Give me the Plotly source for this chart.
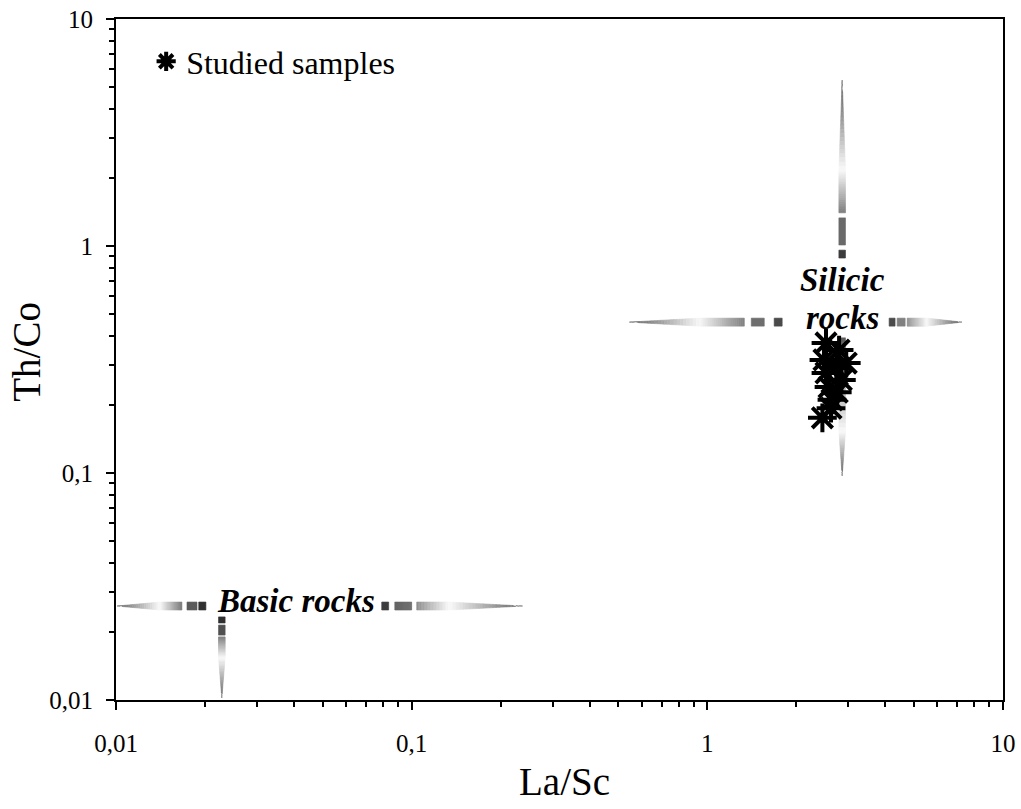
import numpy as np
import plotly.graph_objects as go

# ---------------- Data ----------------
# Studied samples (La/Sc vs Th/Co)
la_sc = [2.52, 2.79, 2.48, 2.95, 2.73, 2.52, 2.84, 2.58, 2.75, 2.64, 2.62, 2.45]
th_co = [0.374, 0.348, 0.315, 0.305, 0.290, 0.276, 0.257, 0.239, 0.227, 0.210, 0.193, 0.175]

x_tickvals = [0.01, 0.1, 1, 10]
x_ticktext = ["0,01", "0,1", "1", "10"]
y_tickvals = [0.01, 0.1, 1, 10]
y_ticktext = ["0,01", "0,1", "1", "10"]

# Field arrows (segments along the arrow direction, in data units)
# Silicic rocks: horizontal arrow at Th/Co level, vertical arrow at La/Sc level
sil_h_level = 0.462
sil_h_segments = [(0.545, 0.940), (0.940, 1.334), (1.408, 1.558), (1.683, 1.791),
                  (4.12, 4.315), (4.385, 4.667), (4.742, 5.534), (5.534, 7.26)]
sil_v_level = 2.858
sil_v_segments = [(5.38, 2.16), (2.16, 1.40), (1.33, 1.01), (0.959, 0.885),
                  (0.394, 0.152), (0.152, 0.0971)]
# Basic rocks
bas_h_level = 0.02594
bas_h_segments = [(0.01008, 0.01409), (0.01409, 0.01671), (0.01738, 0.01879), (0.01905, 0.02014),
                  (0.0792, 0.0836), (0.0877, 0.1000), (0.1040, 0.1343), (0.1343, 0.2371)]
bas_v_level = 0.02280
bas_v_segments = [(0.02323, 0.02183), (0.02138, 0.01932), (0.01897, 0.01531), (0.01531, 0.01021)]

# Field labels (position in data units)
sil_label1_pos = (2.858, 0.708)
sil_label2_pos = (2.858, 0.48)
bas_label_pos = (0.0407, 0.0273)

# ---------------- Styles ----------------
# (width at start, width at end, colour at start, colour at end)
sil_h_styles = [(0, 1, "#5a5a5a", "#f8f8f8"), (1, 1, "#f8f8f8", "#808080"),
                (1, 1, "#6e6e6e", "#6e6e6e"), (1, 1, "#4a4a4a", "#4a4a4a"),
                (1, 1, "#4a4a4a", "#4a4a4a"), (1, 1, "#808080", "#808080"),
                (1, 1, "#909090", "#f8f8f8"), (1, 0, "#f8f8f8", "#5a5a5a")]
sil_v_styles = [(0, 1, "#555555", "#fafafa"), (1, 1, "#fafafa", "#808080"),
                (1, 1, "#6a6a6a", "#6a6a6a"), (1, 1, "#3c3c3c", "#3c3c3c"),
                (1, 1, "#5a5a5a", "#fafafa"), (1, 0, "#fafafa", "#5a5a5a")]
bas_h_styles = [(0, 1, "#606060", "#fafafa"), (1, 1, "#fafafa", "#7c7c7c"),
                (1, 1, "#5a5a5a", "#5a5a5a"), (1, 1, "#303030", "#303030"),
                (1, 1, "#3c3c3c", "#3c3c3c"), (1, 1, "#606060", "#6e6e6e"),
                (1, 1, "#8e8e8e", "#fafafa"), (1, 0, "#fafafa", "#606060")]
bas_v_styles = [(1, 1, "#303030", "#303030"), (1, 1, "#505050", "#505050"),
                (1, 1, "#7a7a7a", "#fafafa"), (1, 0, "#fafafa", "#606060")]

W, H = 1021, 809
ML, MR, MT, MB = 116, 18, 19, 109
XR = [-2, 1]
YR = [-2, 1]
XPX = (W - ML - MR) / (XR[1] - XR[0])   # pixels per decade
YPX = (H - MT - MB) / (YR[1] - YR[0])
HALF_H = 4.0   # px, half thickness of horizontal arrows
HALF_V = 3.3   # px, half thickness of vertical arrows
SERIF = "Liberation Serif, Times New Roman, serif"


def hex2rgb(c):
    c = c.lstrip("#")
    return np.array([int(c[i:i + 2], 16) for i in (0, 2, 4)], dtype=float)


def mix(c0, c1, t):
    v = hex2rgb(c0) * (1 - t) + hex2rgb(c1) * t
    return "rgb(%d,%d,%d)" % tuple(np.round(v).astype(int))


def arrow_traces(orient, level, segments, styles):
    traces = []
    lev = np.log10(level)
    for (a, b), (w0, w1, c0, c1) in zip(segments, styles):
        la, lb = np.log10(a), np.log10(b)
        n = 1 if (c0 == c1 and w0 == w1) else 22
        ts = np.linspace(0, 1, n + 1)
        for i in range(n):
            t0, t1 = ts[i], ts[i + 1]
            p0, p1 = la + (lb - la) * t0, la + (lb - la) * t1
            hw0, hw1 = w0 + (w1 - w0) * t0, w0 + (w1 - w0) * t1
            col = mix(c0, c1, (t0 + t1) / 2)
            if orient == "h":
                d = HALF_H / YPX
                xs = [p0, p1, p1, p0, p0]
                ys = [lev + hw0 * d, lev + hw1 * d, lev - hw1 * d, lev - hw0 * d, lev + hw0 * d]
            else:
                d = HALF_V / XPX
                ys = [p0, p1, p1, p0, p0]
                xs = [lev - hw0 * d, lev - hw1 * d, lev + hw1 * d, lev + hw0 * d, lev - hw0 * d]
            traces.append(go.Scatter(
                x=10 ** np.array(xs), y=10 ** np.array(ys), mode="lines",
                fill="toself", fillcolor=col, line=dict(color=col, width=0.6),
                hoverinfo="skip", showlegend=False))
    return traces


fig = go.Figure()
for tr in (arrow_traces("h", sil_h_level, sil_h_segments, sil_h_styles)
           + arrow_traces("v", sil_v_level, sil_v_segments, sil_v_styles)
           + arrow_traces("h", bas_h_level, bas_h_segments, bas_h_styles)
           + arrow_traces("v", bas_v_level, bas_v_segments, bas_v_styles)):
    fig.add_trace(tr)

fig.add_trace(go.Scatter(
    x=la_sc, y=th_co, mode="markers", name="Studied samples",
    marker=dict(symbol="asterisk-open", size=24, color="black",
                line=dict(color="black", width=4)),
))

minor_vals = [m * 10.0 ** e for e in range(-2, 1) for m in range(2, 10)]

axis_common = dict(
    type="log", showgrid=False, zeroline=False, automargin=False,
    showline=True, linecolor="black", linewidth=2, mirror=True,
    ticks="outside", ticklen=8, tickwidth=2, tickcolor="black",
    tickmode="array",
    tickfont=dict(family=SERIF, size=25, color="black"),
    minor=dict(tickmode="array", tickvals=minor_vals, ticks="outside",
               ticklen=5, tickwidth=1.5, tickcolor="black", showgrid=False),
)

label_font = dict(family=SERIF, size=33, color="black")

fig.update_layout(
    width=W, height=H,
    margin=dict(l=ML, r=MR, t=MT, b=MB, autoexpand=False),
    paper_bgcolor="white", plot_bgcolor="white",
    xaxis=dict(range=XR, tickvals=x_tickvals, ticktext=x_ticktext,
               ticklabelstandoff=12, **axis_common),
    yaxis=dict(range=YR, tickvals=y_tickvals, ticktext=y_ticktext,
               ticklabelstandoff=8, **axis_common),
    showlegend=True,
    legend=dict(x=0.034, y=0.978, xanchor="left", yanchor="top",
                bgcolor="rgba(0,0,0,0)", borderwidth=0,
                font=dict(family=SERIF, size=32, color="black")),
    annotations=[
        dict(text="La/Sc", xref="paper", yref="paper", x=0.506, y=-0.1204,
             xanchor="center", yanchor="middle", showarrow=False,
             font=dict(family=SERIF, size=39, color="black")),
        dict(text="Th/Co", xref="paper", yref="paper", x=-0.101, y=0.512,
             xanchor="center", yanchor="middle", showarrow=False, textangle=-90,
             font=dict(family=SERIF, size=39, color="black")),
        dict(text="<b><i>Silicic</i></b>", xref="x", yref="y",
             x=np.log10(sil_label1_pos[0]), y=np.log10(sil_label1_pos[1]),
             xanchor="center", yanchor="middle", showarrow=False, font=label_font),
        dict(text="<b><i>rocks</i></b>", xref="x", yref="y",
             x=np.log10(sil_label2_pos[0]), y=np.log10(sil_label2_pos[1]),
             xanchor="center", yanchor="middle", showarrow=False, font=label_font),
        dict(text="<b><i>Basic rocks</i></b>", xref="x", yref="y",
             x=np.log10(bas_label_pos[0]), y=np.log10(bas_label_pos[1]),
             xanchor="center", yanchor="middle", showarrow=False, font=label_font),
    ],
)

fig.write_html("out.html", config={"displayModeBar": False},
               post_script="document.body.style.margin='0';")
